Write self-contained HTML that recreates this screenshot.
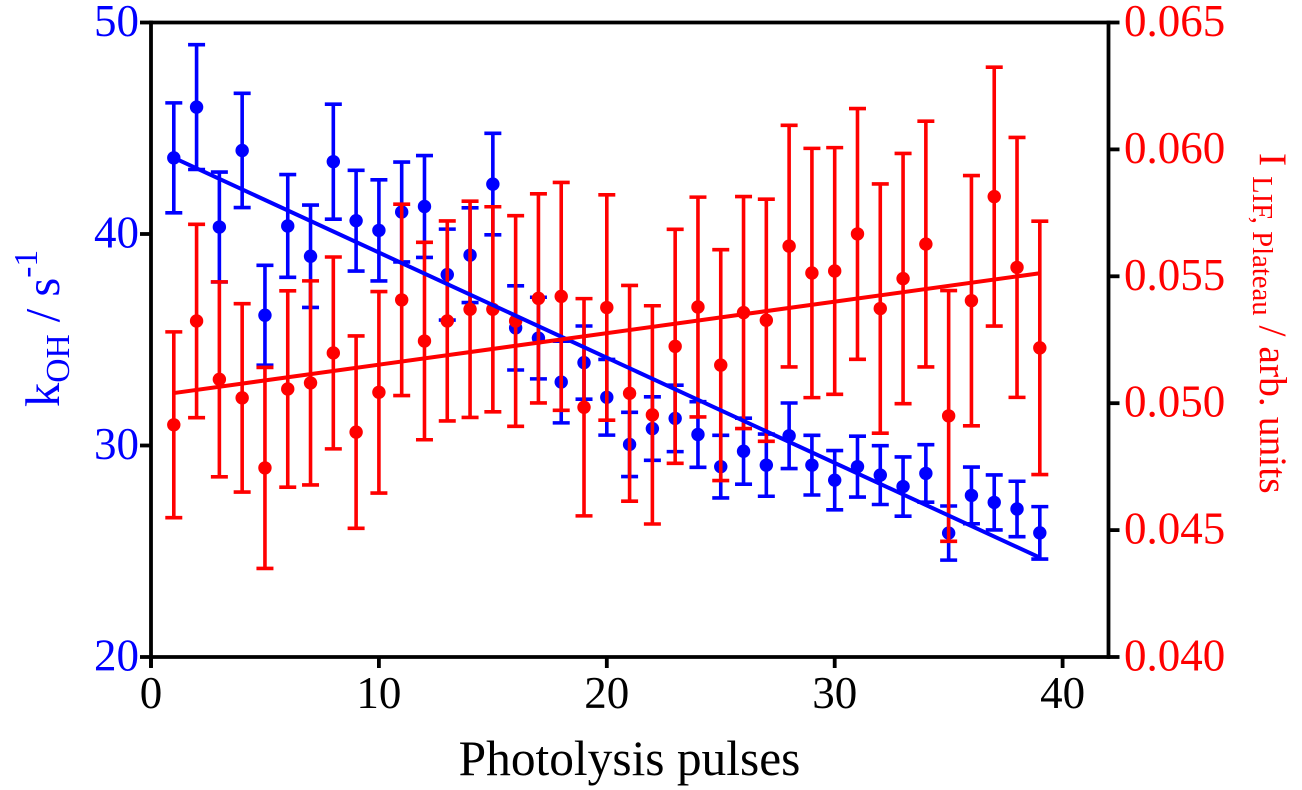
<!DOCTYPE html>
<html lang="en">
<head>
<meta charset="utf-8">
<title>kOH and LIF plateau intensity versus photolysis pulses</title>
<style>
html,body{margin:0;padding:0;background:#fff;}
#chart{display:block;width:1302px;height:790px;font-family:"Liberation Serif",serif;}
</style>
</head>
<body>
<svg id="chart" xmlns="http://www.w3.org/2000/svg" width="1302" height="790" viewBox="0 0 1302 790">
  <g id="blue-layer"></g>
  <g id="red-layer"></g>
  <g id="fit-layer"></g>
  <g id="axes-layer"></g>
  <text x="629.5" y="775" text-anchor="middle" font-size="49.4" fill="#000">Photolysis pulses</text>
  <text transform="translate(59 407) rotate(-90)" font-size="48.5" fill="#0000ff" xml:space="preserve">k<tspan font-size="33.5" dy="10">OH</tspan><tspan dy="-10"> / s</tspan><tspan font-size="33.5" dy="-22">-1</tspan></text>
  <text transform="translate(1260 153) rotate(90)" font-size="39.6" fill="#ff0000" xml:space="preserve">I <tspan font-size="28.7" dy="7">LIF, Plateau</tspan><tspan dy="-7"> / arb. units</tspan></text>
</svg>
<script>
const pulses = [1,2,3,4,5,6,7,8,9,10,11,12,13,14,15,16,17,18,19,20,21,22,23,24,25,26,27,28,29,30,31,32,33,34,35,36,37,38,39];
const kohValues = [43.6,46.0,40.33,43.95,36.16,40.38,38.95,43.42,40.63,40.17,41.04,41.3,38.08,39.0,42.36,35.56,35.08,33.0,33.92,32.28,30.05,30.8,31.28,30.52,29.0,29.73,29.07,30.46,29.07,28.36,29.0,28.6,28.06,28.68,25.86,27.64,27.31,27.0,25.87];
const kohErrors = [2.6,2.95,2.6,2.7,2.36,2.43,2.42,2.72,2.38,2.39,2.36,2.41,2.15,2.24,2.4,1.99,1.93,1.93,1.73,1.79,1.52,1.5,1.57,1.55,1.48,1.56,1.47,1.55,1.41,1.4,1.44,1.39,1.4,1.36,1.28,1.34,1.3,1.31,1.24];
const lifValues = [0.04915,0.05324,0.05094,0.05021,0.04745,0.05056,0.0508,0.05198,0.04886,0.05043,0.05407,0.05245,0.05324,0.0537,0.0537,0.05324,0.05413,0.05421,0.04984,0.05377,0.05039,0.04954,0.05224,0.05379,0.0515,0.05357,0.05327,0.05619,0.05513,0.05521,0.05667,0.05373,0.05491,0.05627,0.0495,0.05404,0.05814,0.05535,0.05218];
const lifErrors = [0.00366,0.00381,0.00384,0.00371,0.00396,0.00387,0.00402,0.00378,0.00379,0.00397,0.00377,0.00389,0.00394,0.00426,0.00404,0.00415,0.00412,0.00449,0.00428,0.00444,0.00425,0.0043,0.00461,0.00433,0.00455,0.00457,0.00477,0.00476,0.00491,0.00486,0.00494,0.00491,0.00493,0.00484,0.00494,0.00493,0.0051,0.00512,0.00499];
const fitPulses = [1,39];
const kohFit = [43.6,24.7];
const lifFit = [0.0504,0.05512];
const xTicks = [0,10,20,30,40];
const kohTicks = [20,30,40,50];
const lifTicks = [0.040,0.045,0.050,0.055,0.060,0.065];

const NS = 'http://www.w3.org/2000/svg';
const plotLeft = 151, plotRight = 1108.5, plotTop = 22.5, plotBottom = 657;
const xUnit = 22.79;
function xScale(v){ return plotLeft + v * xUnit; }
function kohScale(v){ return plotBottom - (v - 20) / 30 * (plotBottom - plotTop); }
function lifScale(v){ return plotBottom - (v - 0.04) / 0.025 * (plotBottom - plotTop); }
function make(tag, attrs, parent){
  const node = document.createElementNS(NS, tag);
  for (const key in attrs) node.setAttribute(key, attrs[key]);
  parent.appendChild(node);
  return node;
}
function drawPoint(parent, color, x, y, yHi, yLo, series){
  const g = make('g', {}, parent);
  
  
  const sw = {stroke: color, 'stroke-width': 3.6, fill: 'none'};
  const stem = make('line', Object.assign({x1: x, x2: x, y1: yHi, y2: yLo}, sw), g);
  
  
  const capHi = make('line', Object.assign({x1: x - 8.5, x2: x + 8.5, y1: yHi, y2: yHi}, sw), g);
  
  
  const capLo = make('line', Object.assign({x1: x - 8.5, x2: x + 8.5, y1: yLo, y2: yLo}, sw), g);
  
  
  const dot = make('circle', {cx: x, cy: y, r: 6.7, fill: color}, g);
  
  
}
const blueLayer = document.getElementById('blue-layer');
const redLayer = document.getElementById('red-layer');
const fitLayer = document.getElementById('fit-layer');
const axesLayer = document.getElementById('axes-layer');

pulses.forEach(function(p, i){
  drawPoint(blueLayer, '#0000ff', xScale(p), kohScale(kohValues[i]), kohScale(kohValues[i] + kohErrors[i]), kohScale(kohValues[i] - kohErrors[i]), 'koh');
});
pulses.forEach(function(p, i){
  drawPoint(redLayer, '#ff0000', xScale(p), lifScale(lifValues[i]), lifScale(lifValues[i] + lifErrors[i]), lifScale(lifValues[i] - lifErrors[i]), 'lif');
});

const kohLine = make('line', {x1: xScale(fitPulses[0]), x2: xScale(fitPulses[1]), y1: kohScale(kohFit[0]), y2: kohScale(kohFit[1]), stroke: '#0000ff', 'stroke-width': 4}, fitLayer);


const lifLine = make('line', {x1: xScale(fitPulses[0]), x2: xScale(fitPulses[1]), y1: lifScale(lifFit[0]), y2: lifScale(lifFit[1]), stroke: '#ff0000', 'stroke-width': 4}, fitLayer);



const axisStyle = {stroke: '#000', 'stroke-width': 3.8};
const leftAxis = make('line', Object.assign({x1: plotLeft, x2: plotLeft, y1: plotTop - 1.9, y2: plotBottom + 10.5}, axisStyle), axesLayer);


const rightAxis = make('line', Object.assign({x1: plotRight, x2: plotRight, y1: plotTop - 1.9, y2: plotBottom + 1.9}, axisStyle), axesLayer);


const bottomAxis = make('line', Object.assign({x1: plotLeft, x2: plotRight, y1: plotBottom, y2: plotBottom}, axisStyle), axesLayer);


const topAxis = make('line', Object.assign({x1: plotLeft, x2: plotRight, y1: plotTop, y2: plotTop}, axisStyle), axesLayer);



xTicks.forEach(function(v){
  const x = xScale(v);
  const tick = make('line', Object.assign({x1: x, x2: x, y1: plotBottom, y2: plotBottom + 11}, axisStyle), axesLayer);
  
  
  const label = make('text', {x: x, y: 708, 'text-anchor': 'middle', 'font-size': 45, fill: '#000'}, axesLayer);
  label.textContent = String(v);
  
  
});
kohTicks.forEach(function(v){
  const y = kohScale(v);
  const tick = make('line', Object.assign({x1: 140, x2: plotLeft, y1: y, y2: y}, axisStyle), axesLayer);
  
  
  const label = make('text', {x: 139, y: y + 13.5, 'text-anchor': 'end', 'font-size': 45, fill: '#0000ff'}, axesLayer);
  label.textContent = String(v);
  
  
});
lifTicks.forEach(function(v){
  const y = lifScale(v);
  const tick = make('line', Object.assign({x1: plotRight, x2: 1119.5, y1: y, y2: y}, axisStyle), axesLayer);
  
  
  const label = make('text', {x: 1124, y: y + 13.5, 'text-anchor': 'start', 'font-size': 45, fill: '#ff0000'}, axesLayer);
  label.textContent = v.toFixed(3);
  
  
});
</script>
</body>
</html>
